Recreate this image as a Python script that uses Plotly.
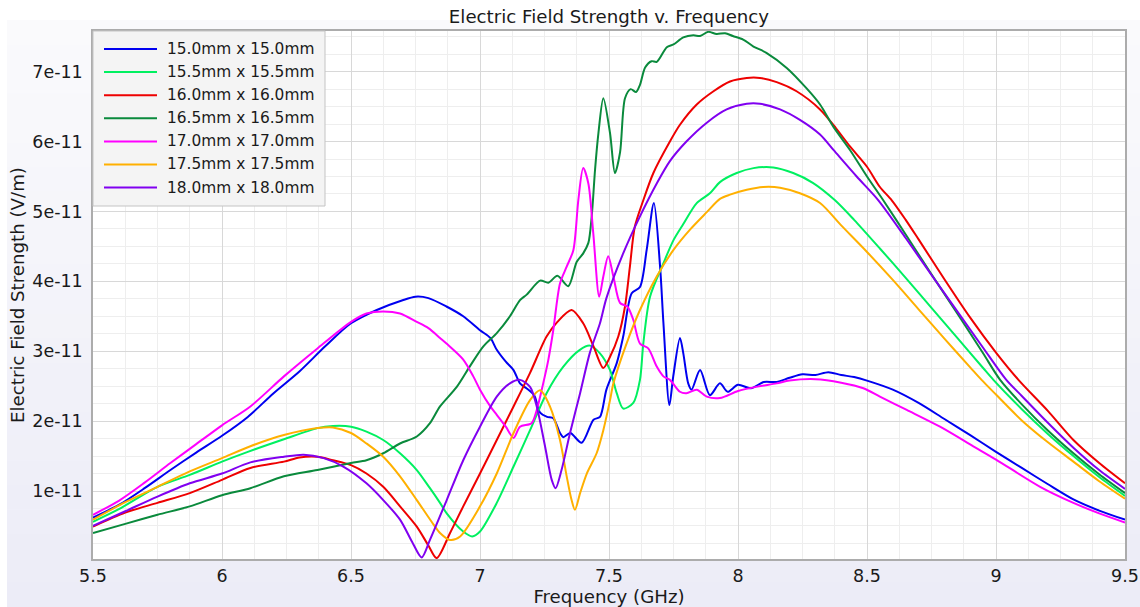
import numpy as np
import plotly.graph_objects as go

# Field strength values are listed in units of 1e-11 V/m
UNIT = 1e-11

series_names = [
    "15.0mm x 15.0mm", "15.5mm x 15.5mm", "16.0mm x 16.0mm", "16.5mm x 16.5mm",
    "17.0mm x 17.0mm", "17.5mm x 17.5mm", "18.0mm x 18.0mm",
]
series_colors = ["#0000f0", "#00f060", "#ee0000", "#0a8a3c", "#ff00ff", "#ffb000", "#8000f0"]

freq_150 = [5.50, 5.60, 5.70, 5.80, 5.90, 6.00, 6.10, 6.20, 6.30, 6.40, 6.50, 6.60, 6.70, 6.75, 6.80,
            6.87, 6.935, 7.00, 7.04, 7.065, 7.10, 7.13, 7.155, 7.18, 7.21, 7.233, 7.26, 7.284, 7.31,
            7.323, 7.35, 7.394, 7.44, 7.465, 7.49, 7.53, 7.555, 7.588, 7.62, 7.646, 7.674, 7.698,
            7.711, 7.734, 7.749, 7.775, 7.788, 7.807, 7.82, 7.853, 7.891, 7.93, 7.96, 8.00, 8.05,
            8.10, 8.15, 8.20, 8.25, 8.30, 8.35, 8.40, 8.45, 8.50, 8.60, 8.70, 8.80, 8.90, 9.00,
            9.10, 9.20, 9.30, 9.40, 9.50]
field_150 = [0.62, 0.80, 1.04, 1.30, 1.55, 1.79, 2.06, 2.40, 2.71, 3.07, 3.40, 3.59, 3.73, 3.78, 3.76,
             3.64, 3.50, 3.30, 3.19, 3.02, 2.85, 2.73, 2.54, 2.47, 2.37, 2.12, 2.06, 2.04, 1.83,
             1.77, 1.83, 1.69, 2.02, 2.06, 2.45, 2.83, 3.21, 3.83, 3.92, 4.45, 5.12, 4.21,
             3.40, 2.23, 2.64, 3.19, 2.97, 2.54, 2.45, 2.73, 2.37, 2.54, 2.42, 2.52, 2.47,
             2.56, 2.56, 2.62, 2.67, 2.66, 2.70, 2.66, 2.63, 2.58, 2.45, 2.26, 2.03, 1.80, 1.56,
             1.33, 1.10, 0.88, 0.72, 0.59]

freq_155 = [5.50, 5.60, 5.75, 5.875, 6.00, 6.10, 6.24, 6.37, 6.43, 6.50, 6.56, 6.625, 6.69, 6.755,
            6.806, 6.845, 6.871, 6.935, 6.97, 7.00, 7.065, 7.13, 7.194, 7.258, 7.323, 7.387, 7.426,
            7.465, 7.504, 7.53, 7.555, 7.594, 7.62, 7.633, 7.659, 7.711, 7.75, 7.788, 7.84, 7.891,
            7.93, 7.995, 8.06, 8.137, 8.214, 8.29, 8.376, 8.45, 8.55, 8.65, 8.75, 8.85, 8.95, 8.99,
            9.10, 9.20, 9.30, 9.40, 9.50]
field_155 = [0.56, 0.74, 1.06, 1.23, 1.42, 1.56, 1.74, 1.90, 1.93, 1.92, 1.85, 1.73, 1.54, 1.30,
             1.04, 0.83, 0.68, 0.42, 0.35, 0.42, 0.83, 1.35, 1.87, 2.40, 2.78, 3.02, 3.08,
             2.97, 2.73, 2.40, 2.18, 2.26, 2.59, 3.11, 3.78, 4.26, 4.59, 4.82, 5.12, 5.26,
             5.42, 5.55, 5.62, 5.63, 5.55, 5.41, 5.16, 4.88, 4.47, 4.05, 3.62, 3.19, 2.76, 2.59,
             2.17, 1.82, 1.50, 1.20, 0.93]

freq_160 = [5.50, 5.625, 5.75, 5.875, 6.00, 6.11, 6.24, 6.30, 6.37, 6.43, 6.50, 6.56, 6.625, 6.69,
            6.755, 6.80, 6.832, 6.884, 6.935, 7.00, 7.065, 7.13, 7.194, 7.258, 7.30, 7.355, 7.40,
            7.44, 7.478, 7.504, 7.536, 7.562, 7.581, 7.60, 7.633, 7.672, 7.736, 7.775, 7.84, 7.905,
            7.969, 8.034, 8.085, 8.15, 8.227, 8.318, 8.38, 8.434, 8.50, 8.55, 8.596, 8.65, 8.70,
            8.80, 8.90, 9.00, 9.087, 9.20, 9.30, 9.40, 9.50]
field_160 = [0.49, 0.69, 0.83, 0.97, 1.16, 1.33, 1.42, 1.48, 1.49, 1.44, 1.37, 1.25, 1.06, 0.78,
             0.49, 0.22, 0.04, 0.40, 0.78, 1.25, 1.73, 2.21, 2.69, 3.21, 3.42, 3.59, 3.40,
             3.07, 2.76, 2.92, 3.21, 3.64, 4.21, 4.78, 5.16, 5.55, 6.00, 6.24, 6.53, 6.72,
             6.86, 6.91, 6.91, 6.85, 6.72, 6.46, 6.19, 5.93, 5.64, 5.35, 5.16, 4.88, 4.60,
             4.03, 3.48, 2.98, 2.59, 2.15, 1.73, 1.40, 1.11]

freq_165 = [5.50, 5.625, 5.75, 5.875, 6.00, 6.11, 6.24, 6.37, 6.50, 6.56, 6.625, 6.69, 6.755, 6.806,
            6.845, 6.91, 6.96, 7.013, 7.065, 7.116, 7.155, 7.181, 7.233, 7.265, 7.30, 7.342, 7.375,
            7.40, 7.42, 7.433, 7.446, 7.459, 7.478, 7.504, 7.523, 7.543, 7.562, 7.584, 7.605, 7.62,
            7.64, 7.665, 7.685, 7.724, 7.75, 7.788, 7.827, 7.853, 7.885, 7.917, 7.95, 7.98, 8.02,
            8.06, 8.11, 8.19, 8.266, 8.318, 8.37, 8.434, 8.50, 8.563, 8.65, 8.75, 8.85, 8.95,
            9.016, 9.10, 9.20, 9.30, 9.40, 9.50]
field_165 = [0.40, 0.53, 0.66, 0.78, 0.94, 1.04, 1.21, 1.30, 1.40, 1.44, 1.54, 1.68, 1.78, 1.97,
             2.21, 2.49, 2.78, 3.07, 3.26, 3.50, 3.73, 3.81, 4.01, 3.98, 4.08, 3.93, 4.28,
             4.40, 4.55, 4.93, 5.60, 6.12, 6.62, 6.12, 5.55, 5.85, 6.62, 6.75, 6.71, 6.81,
             7.06, 7.15, 7.14, 7.35, 7.39, 7.49, 7.52, 7.51, 7.57, 7.54, 7.55, 7.51, 7.46,
             7.36, 7.27, 7.05, 6.76, 6.53, 6.21, 5.88, 5.50, 5.16, 4.67, 4.10, 3.54, 2.97,
             2.59, 2.24, 1.87, 1.54, 1.24, 0.97]

freq_170 = [5.50, 5.60, 5.70, 5.80, 5.90, 6.00, 6.11, 6.24, 6.37, 6.50, 6.56, 6.625, 6.69, 6.755,
            6.80, 6.845, 6.87, 6.935, 6.974, 7.00, 7.04, 7.065, 7.10, 7.13, 7.155, 7.20, 7.22,
            7.245, 7.265, 7.284, 7.31, 7.336, 7.362, 7.381, 7.40, 7.42, 7.439, 7.462, 7.478, 7.497,
            7.517, 7.543, 7.571, 7.594, 7.62, 7.652, 7.685, 7.711, 7.736, 7.775, 7.80, 7.84, 7.879,
            7.93, 8.00, 8.07, 8.15, 8.20, 8.30, 8.40, 8.486, 8.55, 8.654, 8.783, 8.912, 9.00,
            9.171, 9.30, 9.40, 9.50]
field_170 = [0.66, 0.86, 1.12, 1.40, 1.67, 1.94, 2.21, 2.64, 3.04, 3.42, 3.54, 3.57, 3.54, 3.42,
             3.33, 3.19, 3.11, 2.88, 2.64, 2.45, 2.21, 2.09, 1.92, 1.76, 1.92, 1.97, 2.16,
             2.54, 2.88, 3.30, 3.97, 4.21, 4.45, 5.16, 5.62, 5.40, 4.69, 3.78, 4.07, 4.36,
             4.07, 3.69, 3.64, 3.45, 3.11, 3.04, 2.78, 2.64, 2.59, 2.42, 2.40, 2.45, 2.35,
             2.33, 2.43, 2.49, 2.54, 2.58, 2.60, 2.55, 2.47, 2.35, 2.16, 1.92, 1.64, 1.45,
             1.06, 0.83, 0.68, 0.55]

freq_175 = [5.50, 5.625, 5.75, 5.875, 6.00, 6.11, 6.24, 6.37, 6.43, 6.50, 6.56, 6.625, 6.69, 6.755,
            6.82, 6.845, 6.884, 6.923, 7.00, 7.065, 7.13, 7.194, 7.233, 7.271, 7.31, 7.336, 7.355,
            7.368, 7.388, 7.414, 7.452, 7.478, 7.504, 7.517, 7.568, 7.62, 7.685, 7.75, 7.814,
            7.879, 7.93, 7.969, 8.034, 8.098, 8.163, 8.24, 8.318, 8.40, 8.50, 8.60, 8.70, 8.80,
            8.90, 8.944, 9.00, 9.10, 9.20, 9.30, 9.40, 9.50]
field_175 = [0.59, 0.84, 1.06, 1.28, 1.47, 1.64, 1.80, 1.90, 1.91, 1.83, 1.68, 1.49, 1.21, 0.87,
             0.52, 0.40, 0.30, 0.35, 0.78, 1.25, 1.83, 2.30, 2.44, 2.21, 1.73, 1.21, 0.87,
             0.73, 0.97, 1.25, 1.54, 1.87, 2.30, 2.54, 3.11, 3.59, 4.07, 4.45, 4.74,
             4.99, 5.18, 5.24, 5.31, 5.35, 5.34, 5.26, 5.12, 4.80, 4.42, 4.02, 3.60, 3.18,
             2.77, 2.59, 2.38, 2.01, 1.70, 1.42, 1.14, 0.89]

freq_180 = [5.50, 5.625, 5.75, 5.875, 6.00, 6.11, 6.24, 6.316, 6.394, 6.47, 6.56, 6.625, 6.69, 6.74,
            6.774, 6.806, 6.871, 6.935, 7.00, 7.065, 7.116, 7.155, 7.194, 7.22, 7.252, 7.278, 7.293,
            7.316, 7.349, 7.388, 7.426, 7.465, 7.49, 7.555, 7.62, 7.685, 7.736, 7.80, 7.879, 7.956,
            8.034, 8.085, 8.163, 8.24, 8.318, 8.37, 8.46, 8.544, 8.65, 8.75, 8.85, 8.95, 9.04,
            9.10, 9.20, 9.30, 9.40, 9.50]
field_180 = [0.50, 0.71, 0.92, 1.11, 1.25, 1.41, 1.49, 1.52, 1.47, 1.35, 1.11, 0.87, 0.59, 0.25,
             0.05, 0.30, 0.87, 1.44, 1.92, 2.35, 2.54, 2.59, 2.49, 2.21, 1.64, 1.16, 1.04,
             1.30, 1.83, 2.40, 2.98, 3.40, 3.76, 4.40, 4.93, 5.40, 5.72, 6.00, 6.27, 6.46,
             6.54, 6.54, 6.46, 6.31, 6.10, 5.88, 5.50, 5.16, 4.62, 4.09, 3.57, 3.05, 2.59,
             2.36, 1.98, 1.62, 1.30, 1.03]

series_freqs = [freq_150, freq_155, freq_160, freq_165, freq_170, freq_175, freq_180]
series_fields = [field_150, field_155, field_160, field_165, field_170, field_175, field_180]

x_tick_vals = [5.5, 6, 6.5, 7, 7.5, 8, 8.5, 9, 9.5]
x_tick_text = ["5.5", "6", "6.5", "7", "7.5", "8", "8.5", "9", "9.5"]
y_tick_vals = [1, 2, 3, 4, 5, 6, 7]
y_tick_text = ["1e-11", "2e-11", "3e-11", "4e-11", "5e-11", "6e-11", "7e-11"]

FONT = "DejaVu Sans"
W, H = 1140, 607
ML, MR, MT, MB = 93, 15, 31, 48
PW, PH = W - ML - MR, H - MT - MB


def px_x(px):
    return (px - ML) / PW


def px_y(py):
    return (H - MB - py) / PH


fig = go.Figure()
for f, v, name, color in zip(series_freqs, series_fields, series_names, series_colors):
    fig.add_trace(go.Scatter(
        x=f, y=np.array(v) * UNIT, name=name, mode="lines",
        line=dict(color=color, width=2, shape="spline", smoothing=0.8),
        showlegend=False,
    ))

shapes = []
# soft lavender backdrop behind the plot frame, lighter towards the top
n_bands = 24
top_py, bot_py = 20, H
for i in range(n_bands):
    t = i / (n_bands - 1)
    r = round(250 + (236 - 250) * t)
    g = round(250 + (236 - 250) * t)
    b = round(252 + (247 - 252) * t)
    y0 = top_py + (bot_py - top_py) * i / n_bands
    y1 = top_py + (bot_py - top_py) * (i + 1) / n_bands
    shapes.append(dict(type="rect", xref="paper", yref="paper", layer="below",
                       x0=px_x(7), x1=px_x(W + 2), y0=px_y(y1 + 0.5), y1=px_y(y0),
                       fillcolor=f"rgb({r},{g},{b})", line=dict(width=0)))
shapes.append(dict(type="rect", xref="paper", yref="paper", layer="below",
                   x0=0, x1=1, y0=0, y1=1, fillcolor="white", line=dict(width=0)))

# legend panel
shapes.append(dict(type="rect", xref="paper", yref="paper", layer="above",
                   x0=px_x(93), x1=px_x(325), y0=px_y(206), y1=px_y(31),
                   fillcolor="#f4f4f4", line=dict(color="#c4c4c4", width=1)))
annotations = []
row_py0, row_step = 49, 23.1
for i, (name, color) in enumerate(zip(series_names, series_colors)):
    py = row_py0 + i * row_step
    shapes.append(dict(type="line", xref="paper", yref="paper", layer="above",
                       x0=px_x(104), x1=px_x(157), y0=px_y(py), y1=px_y(py),
                       line=dict(color=color, width=2)))
    annotations.append(dict(text=name, xref="paper", yref="paper", x=px_x(165), y=px_y(py),
                            xanchor="left", yanchor="middle", showarrow=False,
                            font=dict(family=FONT, size=15.4, color="#1a1a1a")))

axis_common = dict(
    showgrid=True, gridcolor="#d8d8d8", gridwidth=1,
    showline=True, mirror=True, linecolor="#acacac", linewidth=1.5,
    zeroline=False, ticks="", automargin=False,
    tickfont=dict(family=FONT, size=17.5, color="#1a1a1a"),
)

fig.update_layout(
    width=W, height=H,
    margin=dict(l=ML, r=MR, t=MT, b=MB, pad=0),
    paper_bgcolor="white", plot_bgcolor="rgba(0,0,0,0)",
    title=dict(text="Electric Field Strength v. Frequency", x=0.5, xref="paper",
               y=1 - 17 / H, yref="container", xanchor="center", yanchor="middle",
               font=dict(family=FONT, size=18.2, color="#1a1a1a")),
    xaxis=dict(
        range=[5.5, 9.5], tickvals=x_tick_vals, ticktext=x_tick_text,
        minor=dict(tick0=5.5, dtick=0.125, showgrid=True, gridcolor="#eeeeee"),
        ticklabelstandoff=0,
        title=dict(text="Frequency (GHz)", standoff=4,
                   font=dict(family=FONT, size=18.2, color="#1a1a1a")),
        **axis_common,
    ),
    yaxis=dict(
        range=[0.027 * UNIT, 7.582 * UNIT],
        tickvals=[v * UNIT for v in y_tick_vals], ticktext=y_tick_text,
        minor=dict(tick0=0, dtick=0.25 * UNIT, showgrid=True, gridcolor="#eeeeee"),
        ticklabelstandoff=5,
        title=dict(text="Electric Field Strength (V/m)", standoff=3,
                   font=dict(family=FONT, size=18.2, color="#1a1a1a")),
        **axis_common,
    ),
    shapes=shapes,
    annotations=annotations,
)

fig.write_html("out.html")
